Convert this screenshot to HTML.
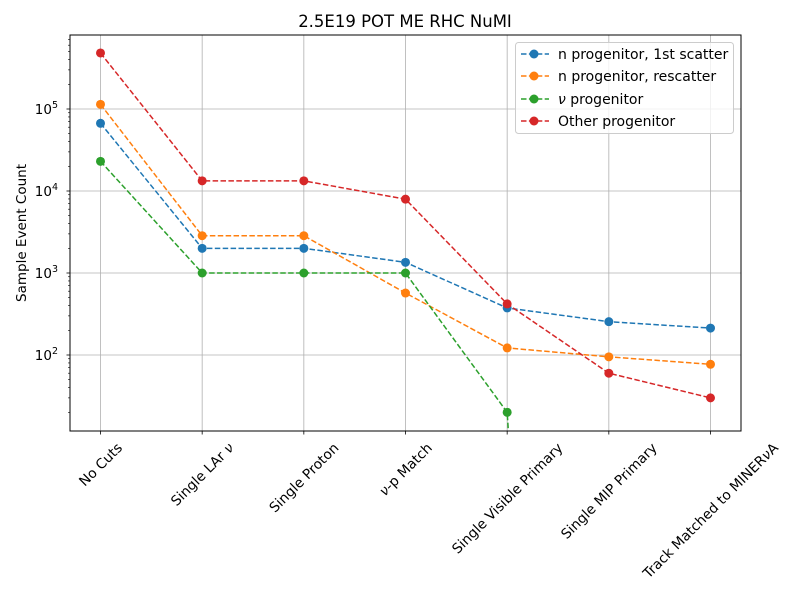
<!DOCTYPE html>
<html><head><meta charset="utf-8"><style>
body{margin:0;background:#fff;font-family:"Liberation Sans","DejaVu Sans",sans-serif;overflow:hidden}
svg text{font-family:"DejaVu Sans","Liberation Sans",sans-serif;fill:#000}
</style></head><body>
<svg id="chart" width="800" height="600" xmlns="http://www.w3.org/2000/svg" style="display:block;overflow:hidden">
<defs><clipPath id="pc"><rect x="70" y="35" width="671" height="396"/></clipPath></defs>
<g id="grid"></g>
<g id="series" clip-path="url(#pc)"></g>
<rect x="70" y="35" width="671" height="396" fill="none" stroke="#000" stroke-width="1"/>
<g id="axes"></g>
<text x="405" y="27" text-anchor="middle" font-size="16.5">2.5E19 POT ME RHC NuMI</text>
<text x="26" y="233" text-anchor="middle" font-size="13.5" transform="rotate(-90 26 233)">Sample Event Count</text>
<g id="legend"></g>
</svg>
<script>
const categories=["No Cuts","Single LAr \u03bd","Single Proton","\u03bd-p Match","Single Visible Primary","Single MIP Primary","Track Matched to MINER\u03bdA"];
const seriesNames=["n progenitor, 1st scatter","n progenitor, rescatter","\u03bd progenitor","Other progenitor"];
const blueValues=[67000,2000,2000,1350,375,255,213];
const orangeValues=[114000,2850,2850,570,122,95,77];
const greenValues=[23000,1000,1000,1000,20,0,0];
const redValues=[482000,13300,13300,7950,420,60,30];
const yTickExps=[2,3,4,5];
const colors=["#1f77b4","#ff7f0e","#2ca02c","#d62728"];
const allSeries=[blueValues,orangeValues,greenValues,redValues];
const NS="http://www.w3.org/2000/svg";
function X(i){return 70+(i+0.3)*(671/6.6);}
function Y(v){const l=Math.log10(Math.max(v,1e-30));return 355-(l-2)*82;}
function mk(t,a,p){const e=document.createElementNS(NS,t);for(const k in a)e.setAttribute(k,a[k]);(p||document.getElementById('chart')).appendChild(e);return e;}
function setNu(el,s){el.innerHTML=s.split('\u03bd').join('<tspan font-style="italic">\u03bd</tspan>');}
const grid=document.getElementById('grid'),axes=document.getElementById('axes'),ser=document.getElementById('series'),leg=document.getElementById('legend');
categories.forEach((c,i)=>{
 const x=X(i);
 const g=mk('line',{x1:x,x2:x,y1:35,y2:431,stroke:'#b0b0b0','stroke-width':0.8},grid);
 
 
 const t=mk('line',{x1:x,x2:x,y1:431,y2:434.5,stroke:'#000','stroke-width':0.8},axes);
 
 
 const lb=mk('text',{x:0,y:0,'font-size':13.8,'text-anchor':'middle',dy:'0.35em'},axes);
 setNu(lb,c);
 
 
 const w=lb.getComputedTextLength();
 const H=(w+15)*0.7071;
 lb.setAttribute('transform',`translate(${x} ${440+H/2}) rotate(-45)`);
});
yTickExps.forEach(e=>{
 const y=Y(Math.pow(10,e));
 const g=mk('line',{x1:70,x2:741,y1:y,y2:y,stroke:'#b0b0b0','stroke-width':0.8},grid);
 
 
 mk('line',{x1:66.5,x2:70,y1:y,y2:y,stroke:'#000','stroke-width':0.8},axes);
 const t=mk('text',{x:58,y:y+5,'font-size':13.5,'text-anchor':'end'},axes);
 t.innerHTML='10<tspan dy="-6" font-size="9.5">'+e+'</tspan>';
 
 
});
for(let e=1;e<=5;e++)for(let m=2;m<=9;m++){const y=Y(m*Math.pow(10,e));if(y<35||y>431)continue;mk('line',{x1:68,x2:70,y1:y,y2:y,stroke:'#000','stroke-width':0.6},axes);}
allSeries.forEach((vals,s)=>{
 const pts=vals.map((v,i)=>X(i)+','+Math.min(Y(v),2000)).join(' ');
 const pl=mk('polyline',{points:pts,fill:'none',stroke:colors[s],'stroke-width':1.5,'stroke-dasharray':'5.5,2.4'},ser);
 
 
 vals.forEach((v,i)=>{if(v<=0)return;
  const c=mk('circle',{cx:X(i),cy:Y(v),r:4.5,fill:colors[s]},ser);
  
  
 });
});
mk('rect',{x:515.5,y:42.5,width:218,height:91,rx:3,fill:'#fff','fill-opacity':0.8,stroke:'#ccc'},leg);
const legY=[54,76,99,121];
seriesNames.forEach((n,s)=>{
 const y=legY[s];
 const ge=mk('g',{},leg);
 
 
 mk('line',{x1:521,x2:549,y1:y,y2:y,stroke:colors[s],'stroke-width':1.5,'stroke-dasharray':'5.5,2.4'},ge);
 mk('circle',{cx:534,cy:y,r:4.5,fill:colors[s]},ge);
 const t=mk('text',{x:558,y:y+5,'font-size':14},ge);setNu(t,n);
});
</script>
</body></html>
